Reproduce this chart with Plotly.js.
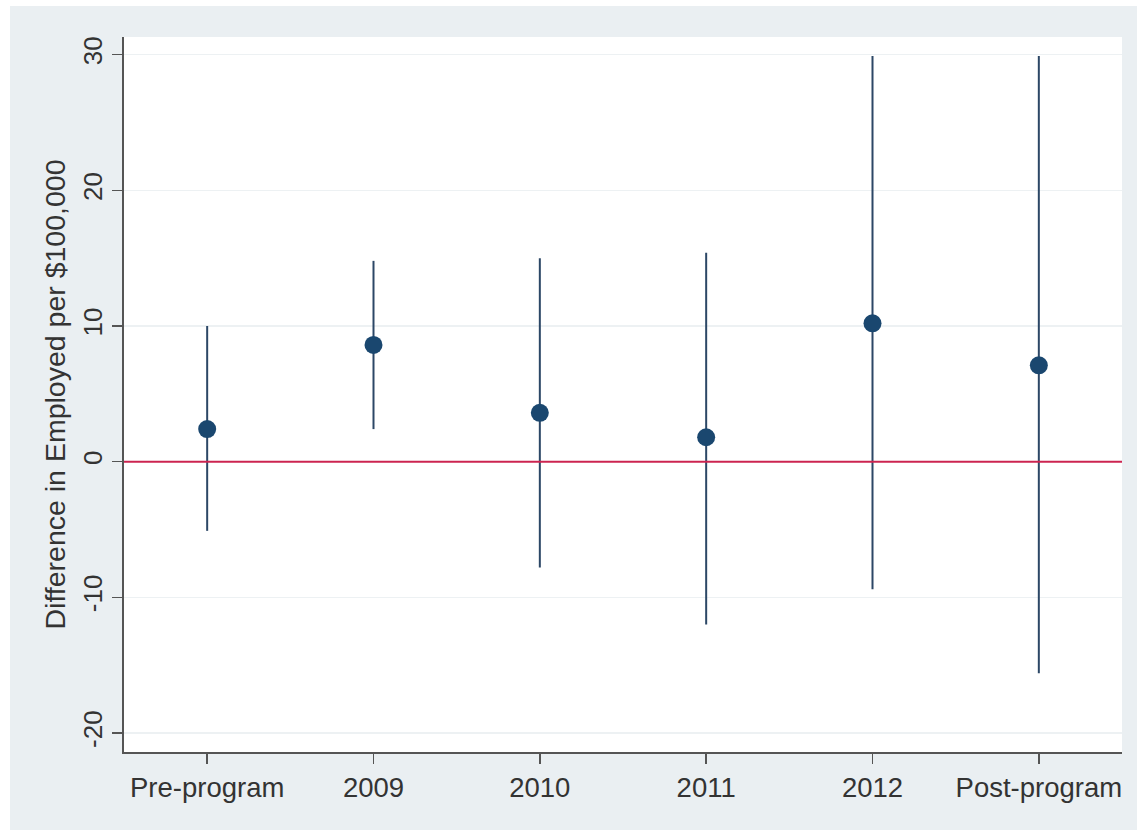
<!DOCTYPE html>
<html>
<head>
<meta charset="utf-8">
<script src="https://cdn.plot.ly/plotly-3.0.1.min.js"></script>
<style>
  html, body { margin: 0; padding: 0; background: #ffffff; }
  #chart { position: absolute; left: 10px; top: 6px; width: 1127px; height: 824px; }
</style>
</head>
<body>
<div id="chart"></div>
<script>
// Point estimates with 95% confidence intervals, by period
const categories = ['Pre-program', '2009', '2010', '2011', '2012', 'Post-program'];
const estimate   = [2.4, 8.6, 3.6, 1.8, 10.2, 7.1];
const ciLower    = [-5.1, 2.4, -7.8, -12.0, -9.4, -15.6];
const ciUpper    = [10.0, 14.8, 15.0, 15.4, 29.9, 29.9];
const yTicks     = [-20, -10, 0, 10, 20, 30];

const plusErr  = estimate.map((v, i) => ciUpper[i] - v);
const minusErr = estimate.map((v, i) => v - ciLower[i]);

const trace = {
  type: 'scatter',
  mode: 'markers',
  x: categories,
  y: estimate,
  marker: { color: '#1a476f', size: 18, line: { width: 0 } },
  error_y: {
    type: 'data',
    symmetric: false,
    array: plusErr,
    arrayminus: minusErr,
    width: 0,
    thickness: 2,
    color: '#2c4766'
  },
  hoverinfo: 'skip',
  showlegend: false
};

const fontFamily = 'Liberation Sans, Arial, sans-serif';
const textColor = '#333333';

const layout = {
  width: 1127,
  height: 824,
  paper_bgcolor: '#eaeff2',
  plot_bgcolor: '#ffffff',
  margin: { l: 114, r: 15, t: 31, b: 78 },
  showlegend: false,
  xaxis: {
    type: 'category',
    range: [-0.5, 5.5],
    showgrid: false,
    zeroline: false,
    showline: true,
    linecolor: '#555555',
    linewidth: 2,
    ticks: 'outside',
    ticklen: 10,
    tickwidth: 1.5,
    tickcolor: '#555555',
    tickfont: { family: fontFamily, size: 27.5, color: textColor },
    fixedrange: true
  },
  yaxis: {
    range: [-21.4, 31.3],
    tickvals: yTicks,
    ticktext: yTicks.map(String),
    tickangle: -90,
    showgrid: true,
    gridcolor: '#edf1f3',
    gridwidth: 1.5,
    zeroline: false,
    showline: true,
    linecolor: '#555555',
    linewidth: 2,
    ticks: 'outside',
    ticklen: 10,
    tickwidth: 1.5,
    tickcolor: '#555555',
    tickfont: { family: fontFamily, size: 26, color: textColor },
    title: {
      text: 'Difference in Employed per $100,000',
      font: { family: fontFamily, size: 28.5, color: textColor },
      standoff: 4
    },
    fixedrange: true
  },
  // reference line at zero
  shapes: [{
    type: 'line',
    xref: 'paper', x0: 0, x1: 1,
    yref: 'y', y0: 0, y1: 0,
    line: { color: '#cc2450', width: 2 },
    layer: 'above'
  }]
};

Plotly.newPlot('chart', [trace], layout, { staticPlot: true, displayModeBar: false });
</script>
</body>
</html>
